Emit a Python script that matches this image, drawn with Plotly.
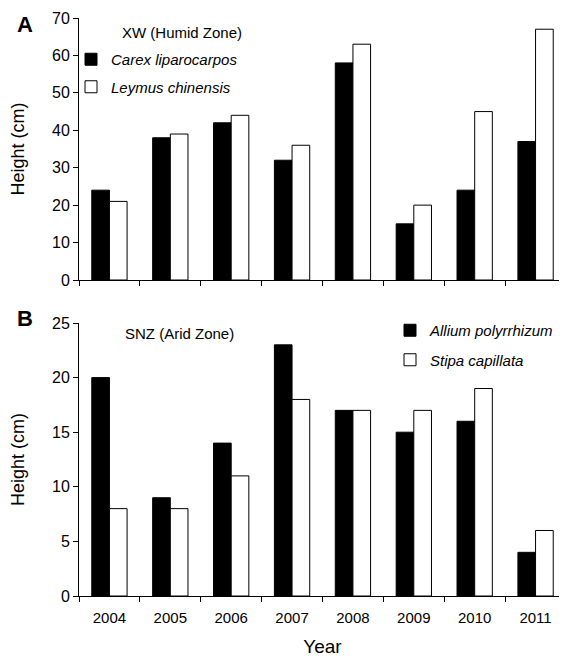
import plotly.graph_objects as go

years = ["2004", "2005", "2006", "2007", "2008", "2009", "2010", "2011"]
carex = [24, 38, 42, 32, 58, 15, 24, 37]
leymus = [21, 39, 44, 36, 63, 20, 45, 67]
allium = [20, 9, 14, 23, 17, 15, 16, 4]
stipa = [8, 8, 11, 18, 17, 17, 19, 6]

FONT = "Liberation Sans, Arial, sans-serif"

fig = go.Figure()
line = dict(color="black", width=1)
fig.add_trace(go.Bar(x=years, y=carex, name="<i>Carex liparocarpos</i>", legendgroup="a1",
                     marker=dict(color="black", line=line), xaxis="x", yaxis="y", legend="legend"))
fig.add_trace(go.Bar(x=years, y=leymus, name="<i>Leymus chinensis</i>", legendgroup="a2",
                     marker=dict(color="white", line=line), xaxis="x", yaxis="y", legend="legend"))
fig.add_trace(go.Bar(x=years, y=allium, name="<i>Allium polyrrhizum</i>", legendgroup="b1",
                     marker=dict(color="black", line=line), xaxis="x2", yaxis="y2", legend="legend2"))
fig.add_trace(go.Bar(x=years, y=stipa, name="<i>Stipa capillata</i>", legendgroup="b2",
                     marker=dict(color="white", line=line), xaxis="x2", yaxis="y2", legend="legend2"))

OFF = 8  # page body margin
W, H = 567 - OFF, 658 - OFF
l, r, t, b = 79 - OFF, 1, 18 - OFF, 62
ph = H - t - b
pw = W - l - r
def py(pix):
    return (H - b - (pix - OFF)) / ph
def px(pix):
    return (pix - OFF - l) / pw

xcommon = dict(type="category", tickson="boundaries", ticks="outside", ticklen=5,
               tickcolor="black", showline=True, linecolor="black", linewidth=1,
               showgrid=False, zeroline=False, automargin=False,
               tickfont=dict(family=FONT, size=15, color="black"))
ycommon = dict(ticks="outside", ticklen=5, tickcolor="black", showline=True, linecolor="black",
               linewidth=1, showgrid=False, zeroline=False, automargin=False,
               tickfont=dict(family=FONT, size=16, color="black"),
               title=dict(text="Height (cm)", font=dict(family=FONT, size=18, color="black"), standoff=22))

legfont = dict(family=FONT, size=15, color="black")
fig.update_layout(
    width=W, height=H,
    margin=dict(l=l, r=r, t=t, b=b),
    paper_bgcolor="white", plot_bgcolor="white",
    barmode="group", bargap=0.42, bargroupgap=0,
    xaxis=dict(xcommon, domain=[0, 1], anchor="y", showticklabels=False),
    yaxis=dict(ycommon, domain=[py(280), 1], range=[0, 70], dtick=10, anchor="x"),
    xaxis2=dict(xcommon, domain=[0, 1], anchor="y2", ticklabelstandoff=8,
                title=dict(text="Year", font=dict(family=FONT, size=19, color="black"), standoff=14)),
    yaxis2=dict(ycommon, domain=[0, py(323)], range=[0, 25], dtick=5, anchor="x2"),
    legend=dict(x=px(71), y=py(43), xanchor="left", yanchor="top", bgcolor="rgba(0,0,0,0)",
                font=legfont, itemwidth=30, tracegroupgap=5, traceorder="grouped"),
    legend2=dict(x=px(390), y=py(314), xanchor="left", yanchor="top", bgcolor="rgba(0,0,0,0)",
                 font=legfont, itemwidth=30, tracegroupgap=7, traceorder="grouped"),
    showlegend=True,
)

ann_font = dict(family=FONT, size=15, color="black")
fig.add_annotation(text="XW (Humid Zone)", x=px(182), y=py(32), xref="paper", yref="paper",
                   showarrow=False, font=ann_font, xanchor="center", yanchor="middle")
fig.add_annotation(text="SNZ (Arid Zone)", x=px(179), y=py(333), xref="paper", yref="paper",
                   showarrow=False, font=ann_font, xanchor="center", yanchor="middle")
fig.add_annotation(text="<b>A</b>", x=px(25), y=py(24), xref="paper", yref="paper",
                   showarrow=False, font=dict(family=FONT, size=22, color="black"),
                   xanchor="center", yanchor="middle")
fig.add_annotation(text="<b>B</b>", x=px(25), y=py(318), xref="paper", yref="paper",
                   showarrow=False, font=dict(family=FONT, size=22, color="black"),
                   xanchor="center", yanchor="middle")

fig.write_html("out.html")
